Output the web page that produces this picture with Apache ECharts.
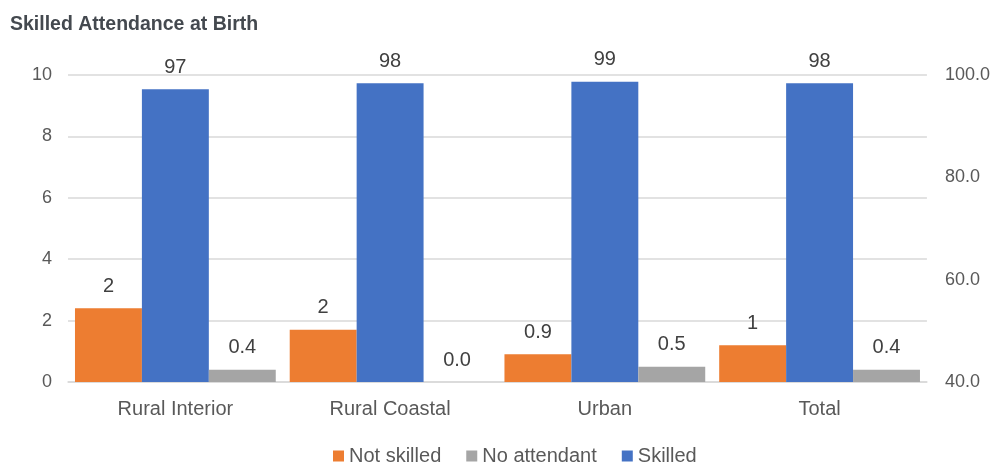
<!DOCTYPE html>
<html>
<head>
<meta charset="utf-8">
<script src="https://cdn.jsdelivr.net/npm/echarts@6/dist/echarts.min.js"></script>
<style>
  html, body { margin: 0; padding: 0; background: #fff; }
  #chart { width: 993px; height: 466px; }
</style>
</head>
<body>
<div id="chart"></div>
<script>
// Place of delivery breakdown, by area
const categories = ['Rural Interior', 'Rural Coastal', 'Urban', 'Total'];
const notSkilled = [2.4, 1.7, 0.9, 1.2];     // left axis (%)
const noAttendant = [0.4, 0.0, 0.5, 0.4];    // left axis (%)
const skilled = [97.2, 98.4, 98.7, 98.4];    // right axis (%)
const leftTicks = { min: 0, max: 10, interval: 2 };
const rightTicks = { min: 40, max: 100, interval: 20 };

const FONT = '"Liberation Sans", Arial, sans-serif';
const labelBase = {
  show: true,
  position: 'top',
  distance: 12,
  color: '#404040',
  fontSize: 20,
  fontFamily: FONT
};

const chart = echarts.init(document.getElementById('chart'), null, { renderer: 'canvas' });
chart.setOption({
  animation: false,
  textStyle: { fontFamily: FONT },
  title: {
    text: 'Skilled Attendance at Birth',
    left: 5,
    top: 10,
    textStyle: { fontFamily: FONT, fontSize: 19.5, fontWeight: 'bold', color: '#44494f' }
  },
  legend: {
    data: ['Not skilled', 'No attendant', 'Skilled'],
    top: 441,
    left: 328,
    itemWidth: 11,
    itemHeight: 11,
    itemGap: 25,
    icon: 'rect',
    textStyle: { fontSize: 20, color: '#595959', fontFamily: FONT }
  },
  grid: { left: 68, right: 65, top: 75, bottom: 84, containLabel: false },
  xAxis: {
    type: 'category',
    data: categories,
    axisLine: { lineStyle: { color: '#d9d9d9', width: 1.5 } },
    axisTick: { show: false },
    axisLabel: { fontSize: 20, color: '#595959', margin: 17 }
  },
  yAxis: [
    {
      type: 'value',
      min: leftTicks.min, max: leftTicks.max, interval: leftTicks.interval,
      axisLine: { show: false },
      axisTick: { show: false },
      splitLine: { lineStyle: { color: '#d9d9d9', width: 1.5 } },
      axisLabel: { fontSize: 18, color: '#595959', margin: 16 }
    },
    {
      type: 'value',
      position: 'right',
      min: rightTicks.min, max: rightTicks.max, interval: rightTicks.interval,
      axisLine: { show: false },
      axisTick: { show: false },
      splitLine: { show: false },
      axisLabel: {
        fontSize: 18, color: '#595959', margin: 18,
        formatter: v => v.toFixed(1)
      }
    }
  ],
  series: [
    {
      name: 'Not skilled',
      type: 'bar',
      yAxisIndex: 0,
      data: notSkilled,
      barGap: '0%',
      barCategoryGap: '6.5%',
      itemStyle: { color: '#ED7D31' },
      label: Object.assign({}, labelBase, {
        formatter: p => (p.value >= 1 ? Math.round(p.value).toString() : p.value.toFixed(1))
      })
    },
    {
      name: 'Skilled',
      type: 'bar',
      yAxisIndex: 1,
      data: skilled,
      barGap: '0%',
      barCategoryGap: '6.5%',
      itemStyle: { color: '#4472C4' },
      label: Object.assign({}, labelBase, {
        formatter: p => Math.round(p.value).toString()
      })
    },
    {
      name: 'No attendant',
      type: 'bar',
      yAxisIndex: 0,
      data: noAttendant,
      barGap: '0%',
      barCategoryGap: '6.5%',
      itemStyle: { color: '#A5A5A5' },
      label: Object.assign({}, labelBase, {
        formatter: p => p.value.toFixed(1)
      })
    }
  ]
});
</script>
</body>
</html>
